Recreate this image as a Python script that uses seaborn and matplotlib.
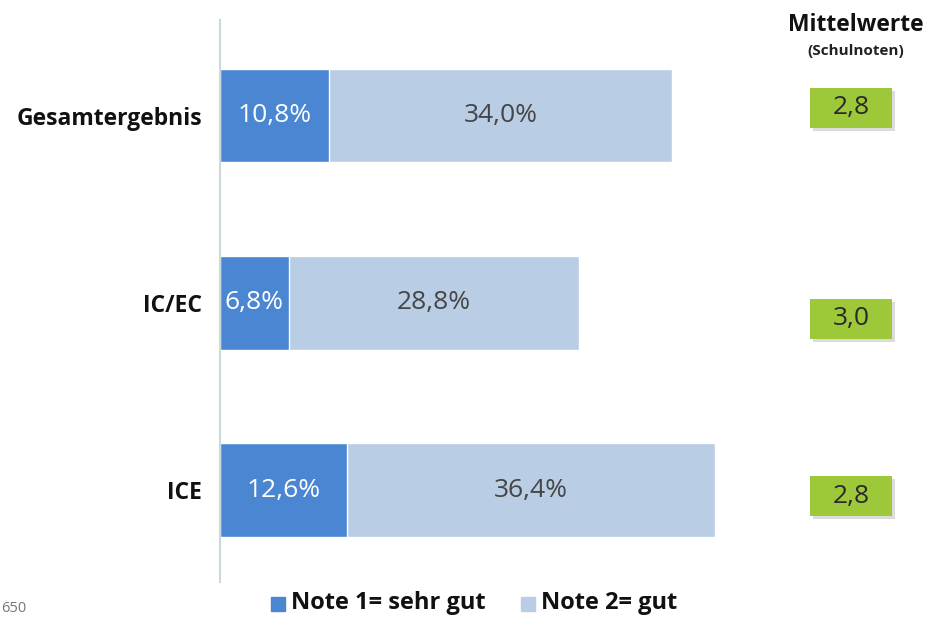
import matplotlib
matplotlib.use("Agg")
import matplotlib.pyplot as plt
import seaborn as sns
import pandas as pd

categories = ["Gesamtergebnis", "IC/EC", "ICE"]
note1 = [10.8, 6.8, 12.6]
note2 = [34.0, 28.8, 36.4]
means = ["2,8", "3,0", "2,8"]
legend_labels = ["Note 1= sehr gut", "Note 2= gut"]

sns.set_theme(style="white")
plt.rcParams["font.family"] = ["Open Sans", "DejaVu Sans"]

dark = "#4a86d2"
light = "#b9cde5"
green = "#9cc83a"

W, H = 928, 619

df = pd.DataFrame({"cat": categories, "n1": note1, "n2": note2})
df["total"] = df["n1"] + df["n2"]

fig = plt.figure(figsize=(W / 100, H / 100), dpi=100)
ax = fig.add_axes([220 / W, 1 - 582 / H, 540 / W, 562 / H])

sns.barplot(data=df, y="cat", x="total", color=light, width=0.5, ax=ax,
            orient="h", saturation=1, errorbar=None)
sns.barplot(data=df, y="cat", x="n1", color=dark, width=0.5, ax=ax,
            orient="h", saturation=1, errorbar=None)

ax.set_xlim(0, 53.5)
ax.set_ylim(2.49, -0.51)
ax.set_xlabel("")
ax.set_ylabel("")
ax.set_xticks([])
ax.set_yticks(range(len(categories)))
ax.set_yticklabels(categories, fontsize=16.5, fontweight="bold", color="#111111")
ax.tick_params(axis="y", length=0, pad=13)
for s in ["top", "right", "bottom"]:
    ax.spines[s].set_visible(False)
ax.spines["left"].set_color("#c9dada")
ax.spines["left"].set_linewidth(1.5)


def fmt(v):
    return f"{v:.1f}%".replace(".", ",")


for i, (a, b) in enumerate(zip(note1, note2)):
    ax.text(a / 2, i, fmt(a), ha="center", va="center", color="white",
            fontsize=19)
    ax.text(a + b / 2, i, fmt(b), ha="center", va="center", color="#454545",
            fontsize=19)

# Mittelwerte boxes (positioned relative to each bar row)
box_offsets = [-8, 16, 6]
bw, bh = 82, 40
cx = 851
for i, (m, off) in enumerate(zip(means, box_offsets)):
    ypix = ax.transData.transform((0, i))[1] - off
    yc = ypix / H
    fig.patches.append(plt.Rectangle(((cx - bw / 2 + 3) / W, yc - bh / 2 / H - 3 / H),
                                     bw / W, bh / H, transform=fig.transFigure,
                                     facecolor="#dcdcdc", edgecolor="none", zorder=1))
    fig.patches.append(plt.Rectangle(((cx - bw / 2) / W, yc - bh / 2 / H),
                                     bw / W, bh / H, transform=fig.transFigure,
                                     facecolor=green, edgecolor="none", zorder=2))
    fig.text(cx / W, yc, m, ha="center", va="center", fontsize=19,
             color="#2a2a2a", zorder=3)

fig.text(856 / W, 1 - 25 / H, "Mittelwerte", ha="center", va="center",
         fontsize=16.5, fontweight="bold", color="#111111")
fig.text(856 / W, 1 - 51 / H, "(Schulnoten)", ha="center", va="center",
         fontsize=11, fontweight="bold", color="#222222")

# legend
fig.patches.append(plt.Rectangle((271 / W, 1 - 611 / H), 14 / W, 14 / H,
                                 transform=fig.transFigure, color=dark))
fig.text(291 / W, 1 - 603 / H, legend_labels[0], ha="left", va="center",
         fontsize=17, fontweight="bold", color="#111111")
fig.patches.append(plt.Rectangle((521 / W, 1 - 611 / H), 14 / W, 14 / H,
                                 transform=fig.transFigure, color=light))
fig.text(541 / W, 1 - 603 / H, legend_labels[1], ha="left", va="center",
         fontsize=17, fontweight="bold", color="#111111")

fig.text(1 / W, 1 - 608 / H, "650", ha="left", va="center",
         fontsize=10.5, color="#777777")

fig.savefig("out.png", dpi=100)
